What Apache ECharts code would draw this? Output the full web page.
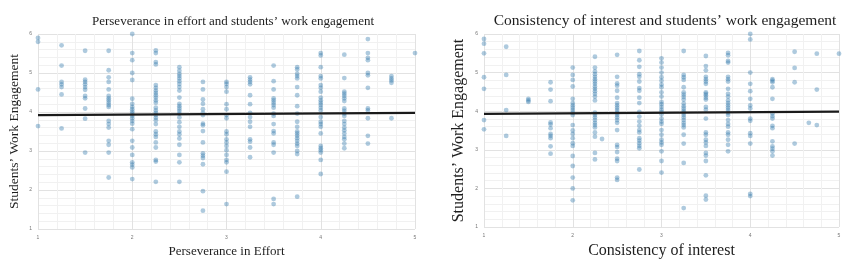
<!DOCTYPE html>
<html>
<head>
<meta charset="utf-8">
<script src="https://cdn.jsdelivr.net/npm/echarts@6/dist/echarts.min.js"></script>
<style>
  html, body { margin: 0; padding: 0; background: #fff; }
  #main { width: 850px; height: 265px; }
</style>
</head>
<body>
<div id="main"></div>
<script>
  // x levels (0.25 steps) and engagement scores read per column
  var effortCols = [1, 1.25, 1.5, 1.75, 2, 2.25, 2.5, 2.75, 3, 3.25, 3.5, 3.75, 4, 4.25, 4.5, 4.75, 5];
  var effortVals = [
    [5.9, 5.8, 4.58, 3.64],
    [5.71, 5.19, 4.77, 4.71, 4.64, 4.45, 3.58],
    [5.57, 4.83, 4.77, 4.71, 4.64, 4.57, 4.41, 4.35, 4.09, 3.83, 2.96],
    [5.57, 5.07, 4.89, 4.77, 4.58, 4.41, 4.35, 4.3, 4.24, 4.18, 4.13, 3.77, 3.69, 3.6, 3.26, 3.16, 2.96, 2.32],
    [6.0, 5.51, 5.33, 5.0, 4.82, 4.34, 4.21, 4.13, 4.07, 4.01, 3.96, 3.9, 3.84, 3.77, 3.7, 3.56, 3.26, 3.09, 2.9, 2.71, 2.65, 2.58, 2.28],
    [5.58, 5.51, 5.28, 5.22, 4.69, 4.62, 4.55, 4.49, 4.43, 4.37, 4.3, 4.24, 4.11, 4.04, 3.98, 3.92, 3.85, 3.79, 3.69, 3.5, 3.43, 3.36, 3.22, 3.09, 2.77, 2.73, 2.21],
    [5.15, 5.06, 4.98, 4.92, 4.86, 4.79, 4.72, 4.64, 4.55, 4.37, 4.21, 4.15, 4.09, 4.03, 3.96, 3.86, 3.74, 3.62, 3.5, 3.43, 3.32, 3.16, 2.9, 2.71, 2.21],
    [4.77, 4.58, 4.32, 4.21, 4.07, 3.98, 3.92, 3.7, 3.66, 3.51, 3.22, 2.94, 2.88, 2.82, 2.66, 1.97, 1.47],
    [4.77, 4.72, 4.64, 4.52, 4.2, 4.07, 3.92, 3.84, 3.5, 3.43, 3.3, 3.22, 3.13, 3.02, 2.9, 2.77, 2.71, 2.47, 1.64],
    [4.89, 4.83, 4.77, 4.71, 4.43, 4.2, 3.98, 3.87, 3.75, 3.62, 3.3, 3.24, 3.09, 2.84],
    [5.19, 4.79, 4.58, 4.35, 4.3, 4.24, 4.18, 4.11, 3.96, 3.9, 3.69, 3.51, 3.45, 3.22, 3.16, 2.96, 1.77, 1.64],
    [5.15, 5.09, 4.98, 4.92, 4.86, 4.64, 4.43, 4.15, 3.96, 3.75, 3.62, 3.5, 3.45, 3.39, 3.33, 3.26, 3.19, 3.13, 3.0, 2.92, 1.83],
    [5.51, 5.45, 5.15, 4.92, 4.86, 4.69, 4.62, 4.52, 4.37, 4.3, 4.24, 4.18, 4.11, 4.04, 3.87, 3.75, 3.69, 3.62, 3.45, 3.13, 3.07, 3.02, 2.96, 2.77, 2.41],
    [5.47, 4.87, 4.52, 4.47, 4.41, 4.35, 4.28, 4.09, 4.03, 3.96, 3.9, 3.77, 3.69, 3.6, 3.53, 3.45, 3.36, 3.3, 3.19, 3.07],
    [5.87, 5.51, 5.39, 5.33, 5.0, 4.94, 4.62, 4.09, 4.04, 3.84, 3.39, 3.19],
    [4.92, 4.86, 4.81, 4.75, 3.84],
    [5.51]
  ];
  var effortFit = [[1, 3.92], [5, 3.98]];

  var interestCols = [1, 1.25, 1.5, 1.75, 2, 2.25, 2.5, 2.75, 3, 3.25, 3.5, 3.75, 4, 4.25, 4.5, 4.75, 5];
  var interestVals = [
    [5.87, 5.75, 5.5, 4.88, 4.58, 3.77, 3.53],
    [5.67, 4.94, 4.03, 3.36],
    [4.32, 4.28, 4.24],
    [4.75, 4.56, 4.26, 3.71, 3.66, 3.56, 3.41, 3.36, 3.3, 3.09, 2.9],
    [5.13, 4.94, 4.81, 4.64, 4.32, 4.21, 4.15, 4.09, 4.03, 3.96, 3.9, 3.64, 3.5, 3.41, 3.3, 3.17, 3.1, 2.84, 2.58, 2.28, 2.0, 1.69],
    [5.41, 5.13, 5.03, 4.96, 4.89, 4.83, 4.77, 4.71, 4.64, 4.58, 4.52, 4.45, 4.38, 4.28, 3.96, 3.9, 3.84, 3.77, 3.7, 3.64, 3.58, 3.45, 3.34, 2.92, 2.75],
    [5.46, 4.89, 4.72, 4.66, 4.53, 4.35, 4.21, 4.15, 4.09, 4.03, 3.96, 3.9, 3.84, 3.77, 3.7, 3.51, 3.13, 3.07, 2.94, 2.77, 2.71, 2.28, 2.22],
    [5.56, 5.32, 5.15, 4.96, 4.89, 4.77, 4.6, 4.53, 4.35, 4.21, 3.98, 3.86, 3.73, 3.62, 3.51, 3.45, 3.3, 3.24, 3.17, 3.1, 3.04, 2.49],
    [5.37, 5.26, 5.13, 5.0, 4.88, 4.79, 4.69, 4.62, 4.49, 4.38, 4.24, 4.18, 4.11, 4.04, 3.98, 3.92, 3.81, 3.73, 3.67, 3.51, 3.39, 3.26, 3.19, 3.13, 2.96, 2.71, 2.41],
    [5.56, 4.94, 4.88, 4.81, 4.62, 4.49, 4.43, 4.37, 4.3, 4.2, 4.13, 4.07, 4.01, 3.96, 3.9, 3.84, 3.77, 3.7, 3.64, 3.58, 3.39, 3.16, 2.66, 1.49],
    [5.43, 5.17, 5.06, 4.89, 4.83, 4.77, 4.71, 4.49, 4.45, 4.41, 4.35, 4.3, 4.11, 4.04, 3.81, 3.45, 3.39, 3.26, 3.19, 3.1, 2.92, 2.85, 2.71, 2.34, 1.81, 1.71],
    [5.51, 5.45, 5.3, 5.26, 4.89, 4.83, 4.77, 4.58, 4.45, 4.38, 4.28, 4.21, 4.15, 4.09, 4.03, 3.96, 3.9, 3.77, 3.67, 3.6, 3.45, 3.39, 3.26, 3.13, 2.96],
    [6.0, 5.86, 5.0, 4.71, 4.52, 4.32, 4.15, 4.07, 3.81, 3.75, 3.43, 3.36, 3.16, 1.86, 1.8],
    [4.83, 4.79, 4.75, 4.62, 4.32, 3.94, 3.87, 3.81, 3.62, 3.56, 3.22, 3.09, 3.03, 2.96, 2.85],
    [5.54, 5.12, 4.75, 3.16],
    [5.49, 4.56, 3.64],
    [5.49]
  ];
  var interestExtra = [[2.33, 3.28], [4.66, 3.7]];
  var interestFit = [[1, 3.93], [5, 3.99]];

  var xTicks = [1, 2, 3, 4, 5];
  var yTicks = [1, 2, 3, 4, 5, 6];

  function toPoints(cols, vals, extra) {
    var pts = [];
    cols.forEach(function (x, i) {
      vals[i].forEach(function (y) { pts.push([x, y]); });
    });
    (extra || []).forEach(function (p) { pts.push(p); });
    return pts;
  }

  var chart = echarts.init(document.getElementById('main'));
  var serif = 'Liberation Serif';

  function xAxisFor(idx, name, size, gap) {
    return {
      gridIndex: idx, type: 'value', min: xTicks[0], max: xTicks[xTicks.length - 1], interval: 1,
      name: name, nameLocation: 'middle', nameGap: gap,
      nameTextStyle: { fontFamily: serif, fontSize: size, color: '#1e1e1e' },
      axisLine: { show: false }, axisTick: { show: false },
      axisLabel: { fontSize: 5, color: '#777', margin: 6 },
      splitLine: { show: true, lineStyle: { color: '#e2e2e2', width: 1 } },
      minorTick: { show: false, splitNumber: 5 },
      minorSplitLine: { show: true, lineStyle: { color: '#f1f1f1', width: 1 } }
    };
  }
  function yAxisFor(idx, size, gap) {
    return {
      gridIndex: idx, type: 'value', min: yTicks[0], max: yTicks[yTicks.length - 1], interval: 1,
      name: 'Students’ Work Engagement', nameLocation: 'middle', nameGap: gap,
      nameTextStyle: { fontFamily: serif, fontSize: size, color: '#1e1e1e' },
      axisLine: { show: false }, axisTick: { show: false },
      axisLabel: { fontSize: 5, color: '#777', margin: 6 },
      splitLine: { show: true, lineStyle: { color: '#e2e2e2', width: 1 } },
      minorTick: { show: false, splitNumber: 5 },
      minorSplitLine: { show: true, lineStyle: { color: '#f1f1f1', width: 1 } }
    };
  }

  var dotStyle = { color: 'rgba(52,122,172,0.5)' };

  var option = {
    backgroundColor: '#fff',
    animation: false,
    title: [
      { text: 'Perseverance in effort and students’ work engagement', left: 228, top: 10, textAlign: 'center',
        textStyle: { fontFamily: serif, fontSize: 13, fontWeight: 'normal', color: '#1e1e1e' } },
      { text: 'Consistency of interest and students’ work engagement', left: 660, top: 8, textAlign: 'center',
        textStyle: { fontFamily: serif, fontSize: 15.5, fontWeight: 'normal', color: '#1e1e1e' } }
    ],
    grid: [
      { left: 38, right: 435, top: 34, bottom: 36 },
      { left: 484, right: 11, top: 34, bottom: 38 }
    ],
    xAxis: [
      xAxisFor(0, 'Perseverance in Effort', 13, 15),
      xAxisFor(1, 'Consistency of interest', 16, 15)
    ],
    yAxis: [
      yAxisFor(0, 13.5, 17),
      yAxisFor(1, 16, 17)
    ],
    series: [
      { type: 'scatter', xAxisIndex: 0, yAxisIndex: 0, symbolSize: 4.8,
        itemStyle: dotStyle, data: toPoints(effortCols, effortVals) },
      { type: 'line', xAxisIndex: 0, yAxisIndex: 0, symbol: 'none',
        lineStyle: { color: '#1a1a1a', width: 2.2 }, data: effortFit, z: 5 },
      { type: 'scatter', xAxisIndex: 1, yAxisIndex: 1, symbolSize: 4.8,
        itemStyle: dotStyle, data: toPoints(interestCols, interestVals, interestExtra) },
      { type: 'line', xAxisIndex: 1, yAxisIndex: 1, symbol: 'none',
        lineStyle: { color: '#1a1a1a', width: 2.2 }, data: interestFit, z: 5 }
    ]
  };

  chart.setOption(option);
</script>
</body>
</html>
